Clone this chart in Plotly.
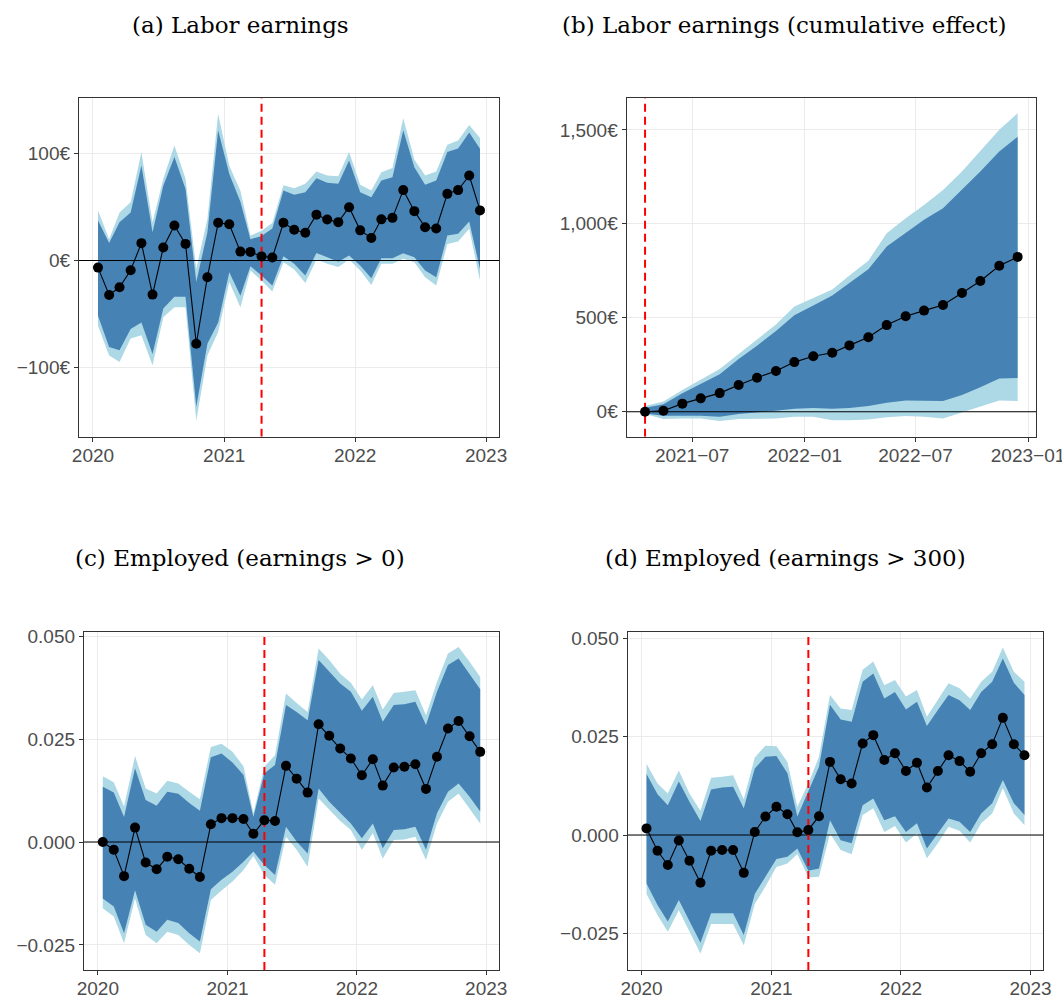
import plotly.graph_objects as go

# ---------------- data ----------------
months_all = [f"{y}-{m:02d}-15" for y in (2020, 2021, 2022) for m in range(1, 13)]
months_cum = months_all[15:]  # 2021-04 .. 2022-12
treat_date = "2021-04-15"

# (a) Labor earnings
est_a = [-6.6, -32.2, -25, -9.1, 16.3, -31.9, 12.2, 32.8, 15.6, -78, -15.6, 35.4, 34, 8.4, 8.1, 3.9, 2.8, 35.4,
         28.9, 26, 43, 38.5, 36, 50, 28.3, 21.2, 38.6, 40, 66, 46.3, 31.2, 30, 62.5, 66, 79.7, 47]
hi95_a = [47, 20, 45, 54.7, 101.6, 35.9, 76.6, 107.8, 76.6, -7.8, 39, 137.5, 88.75, 65.3, 23.4, 28, 35.3, 70.6,
          67.8, 71.9, 83.4, 79.7, 79, 101.6, 71, 65.6, 82.8, 86.6, 133.4, 94.7, 79.7, 83.4, 108.4, 112.5, 127, 114.7]
hi90_a = [37.5, 16.5, 36, 45, 89, 26.5, 70, 97, 67, -20, 26.5, 122, 81, 55, 20, 23, 30, 65.6,
          61.6, 64, 77, 72.8, 72, 93.75, 64, 59.4, 75, 78, 122, 87.5, 71, 75, 101.6, 105, 120, 104.7]
lo90_a = [-51.6, -81, -84, -64, -58, -87.5, -45, -34, -34, -137, -78, -58, -11, -33, -5.3, -14, -23.4, 4,
          -3, -14, 7.2, 3, -1, 4.7, -4.7, -16.5, 2.2, 2.2, 6.9, 3, -9.4, -15.6, 23.4, 25, 36.6, -7.8]
lo95_a = [-61, -89, -95, -73, -70, -98, -53, -43.75, -43.75, -150, -89, -67, -20, -43.75, -9.4, -18.75, -29, -1.5,
          -8.4, -21, 1, -3, -6, 1, -9.4, -22.8, -3, -3, 1.6, -1.5, -15.6, -23.4, 15.6, 17.8, 29.7, -18.75]

# (b) Labor earnings (cumulative effect)
est_b = [0, 5, 43, 71, 99, 142, 181, 217, 264, 295, 314, 353, 396, 461, 508, 538, 568, 632, 696, 777, 824]
hi95_b = [30, 54, 115, 170, 227, 307, 382, 464, 560, 605, 650, 725, 804, 950, 1030, 1100, 1180, 1278, 1385, 1500, 1589]
hi90_b = [21, 40, 98, 148, 200, 280, 351, 430, 514, 565, 618, 685, 758, 879, 953, 1021, 1083, 1180, 1278, 1385, 1464]
lo90_b = [-9, -21, -21, -21, -27, -12, -4, 5, 16, 20, 16, 20, 30, 48, 59, 59, 57, 89, 130, 177, 180]
lo95_b = [-12, -39, -36, -36, -50, -39, -36, -36, -27, -27, -45, -45, -41, -30, -23, -27, -36, 0, 27, 59, 57]

# (c) Employed (earnings > 0)
est_c = [0.0, -0.0019, -0.0083, 0.0035, -0.0050, -0.0066, -0.0036, -0.0042, -0.0065, -0.0085, 0.0043, 0.0058,
         0.0058, 0.0056, 0.0020, 0.0053, 0.0051, 0.0185, 0.0154, 0.0120, 0.0286, 0.0258, 0.0227, 0.0203,
         0.0162, 0.0201, 0.0137, 0.0181, 0.0183, 0.0189, 0.0129, 0.0207, 0.0276, 0.0294, 0.0257, 0.0219]
hi95_c = [0.0160, 0.0145, 0.0086, 0.0209, 0.0130, 0.0118, 0.0149, 0.0142, 0.0122, 0.0104, 0.0231, 0.0239,
          0.0219, 0.0184, 0.0070, 0.0183, 0.0211, 0.0361, 0.0338, 0.0316, 0.0470, 0.0442, 0.0409, 0.0387,
          0.0346, 0.0381, 0.0322, 0.0362, 0.0365, 0.0369, 0.0308, 0.0389, 0.0458, 0.0474, 0.0438, 0.0401]
hi90_c = [0.0134, 0.0120, 0.0061, 0.0179, 0.0102, 0.0088, 0.0122, 0.0117, 0.0095, 0.0076, 0.0206, 0.0215,
          0.0193, 0.0163, 0.0061, 0.0167, 0.0187, 0.0333, 0.0316, 0.0296, 0.0442, 0.0413, 0.0385, 0.0365,
          0.0319, 0.0353, 0.0292, 0.0333, 0.0335, 0.0341, 0.0284, 0.0365, 0.0430, 0.0446, 0.0409, 0.0371]
lo90_c = [-0.0137, -0.0157, -0.0222, -0.0117, -0.0201, -0.0218, -0.0189, -0.0197, -0.0222, -0.0242, -0.0115, -0.0092,
          -0.0072, -0.0048, -0.0023, -0.0056, -0.0080, 0.0037, 0.0001, -0.0028, 0.0130, 0.0098, 0.0070, 0.0045,
          0.0009, 0.0045, -0.0015, 0.0029, 0.0031, 0.0037, -0.0019, 0.0070, 0.0122, 0.0142, 0.0110, 0.0074]
lo95_c = [-0.0161, -0.0181, -0.0246, -0.0137, -0.0226, -0.0246, -0.0218, -0.0226, -0.0250, -0.0270, -0.0141, -0.0118,
          -0.0096, -0.0068, -0.0034, -0.0080, -0.0104, 0.0013, -0.0019, -0.0060, 0.0106, 0.0078, 0.0051, 0.0029,
          -0.0019, 0.0021, -0.0040, 0.0005, 0.0006, 0.0013, -0.0044, 0.0045, 0.0098, 0.0118, 0.0082, 0.0045]

# (d) Employed (earnings > 300)
est_d = [0.0017, -0.0040, -0.0076, -0.0014, -0.0065, -0.0121, -0.0040, -0.0038, -0.0038, -0.0096, 0.0008, 0.0047,
         0.0072, 0.0053, 0.0007, 0.0013, 0.0048, 0.0186, 0.0142, 0.0131, 0.0233, 0.0254, 0.0191, 0.0208,
         0.0163, 0.0184, 0.0121, 0.0163, 0.0203, 0.0188, 0.0161, 0.0208, 0.0231, 0.0298, 0.0231, 0.0203]
hi95_d = [0.0181, 0.0131, 0.0106, 0.0164, 0.0106, 0.0062, 0.0146, 0.0148, 0.0152, 0.0091, 0.0197, 0.0227,
          0.0226, 0.0186, 0.0072, 0.0131, 0.0199, 0.0356, 0.0322, 0.0318, 0.0420, 0.0441, 0.0381, 0.0394,
          0.0352, 0.0369, 0.0301, 0.0343, 0.0386, 0.0373, 0.0347, 0.0390, 0.0415, 0.0477, 0.0415, 0.0390]
hi90_d = [0.0155, 0.0104, 0.0076, 0.0136, 0.0085, 0.0036, 0.0116, 0.0121, 0.0123, 0.0068, 0.0169, 0.0199,
          0.0201, 0.0157, 0.0047, 0.0110, 0.0174, 0.0331, 0.0294, 0.0288, 0.0390, 0.0411, 0.0347, 0.0364,
          0.0319, 0.0339, 0.0277, 0.0318, 0.0356, 0.0343, 0.0318, 0.0364, 0.0390, 0.0449, 0.0387, 0.0356]
lo90_d = [-0.0123, -0.0178, -0.0220, -0.0165, -0.0218, -0.0274, -0.0199, -0.0199, -0.0199, -0.0254, -0.0150, -0.0106,
          -0.0061, -0.0055, -0.0034, -0.0091, -0.0085, 0.0038, -0.0013, -0.0021, 0.0076, 0.0093, 0.0038, 0.0048,
          0.0008, 0.0030, -0.0034, 0.0004, 0.0042, 0.0034, 0.0008, 0.0055, 0.0081, 0.0140, 0.0081, 0.0051]
lo95_d = [-0.0150, -0.0203, -0.0246, -0.0191, -0.0246, -0.0301, -0.0226, -0.0226, -0.0226, -0.0280, -0.0175, -0.0131,
          -0.0081, -0.0072, -0.0048, -0.0108, -0.0106, 0.0004, -0.0038, -0.0049, 0.0051, 0.0068, 0.0008, 0.0023,
          -0.0019, 0.0004, -0.0059, -0.0021, 0.0021, 0.0011, -0.0019, 0.0030, 0.0055, 0.0119, 0.0055, 0.0025]

titles = ["(a) Labor earnings", "(b) Labor earnings (cumulative effect)",
          "(c) Employed (earnings > 0)", "(d) Employed (earnings > 300)"]

year_ticks = ["2020-01-01", "2021-01-01", "2022-01-01", "2023-01-01"]
year_text = ["2020", "2021", "2022", "2023"]
half_ticks = ["2021-07-01", "2022-01-01", "2022-07-01", "2023-01-01"]
half_text = ["2021\u221207", "2022\u221201", "2022\u221207", "2023\u221201"]

eur_ticks_a = [-100, 0, 100]
eur_text_a = ["\u2212100\u20ac", "0\u20ac", "100\u20ac"]
eur_ticks_b = [0, 500, 1000, 1500]
eur_text_b = ["0\u20ac", "500\u20ac", "1,000\u20ac", "1,500\u20ac"]
emp_ticks = [-0.025, 0.0, 0.025, 0.05]
emp_text = ["\u22120.025", "0.000", "0.025", "0.050"]

# ---------------- styling ----------------
W, H = 1062, 998
LIGHT = "#ADD8E6"
DARK = "#4682B4"
SANS = "Liberation Sans, Arial, sans-serif"
SERIF = "DejaVu Serif, Liberation Serif, serif"

panels = [
    dict(x=months_all, est=est_a, hi95=hi95_a, hi90=hi90_a, lo90=lo90_a, lo95=lo95_a,
         px=(79, 499), py=(98.3, 436.7), xr=["2019-11-23", "2023-02-06"], yr=[-165, 152],
         xt=year_ticks, xtt=year_text, yt=eur_ticks_a, ytt=eur_text_a, title_xy=(240.5, 25)),
    dict(x=months_cum, est=est_b, hi95=hi95_b, hi90=hi90_b, lo90=lo90_b, lo95=lo95_b,
         px=(626.7, 1036), py=(98.3, 436.7), xr=["2021-03-16", "2023-01-14"], yr=[-133, 1668],
         xt=half_ticks, xtt=half_text, yt=eur_ticks_b, ytt=eur_text_b, title_xy=(784, 25)),
    dict(x=months_all, est=est_c, hi95=hi95_c, hi90=hi90_c, lo90=lo90_c, lo95=lo95_c,
         px=(84, 499), py=(631.7, 970), xr=["2019-11-23", "2023-02-06"], yr=[-0.0311, 0.0511],
         xt=year_ticks, xtt=year_text, yt=emp_ticks, ytt=emp_text, title_xy=(240, 558)),
    dict(x=months_all, est=est_d, hi95=hi95_d, hi90=hi90_d, lo90=lo90_d, lo95=lo95_d,
         px=(627.7, 1043.3), py=(631.7, 970), xr=["2019-11-23", "2023-02-06"], yr=[-0.0343, 0.0517],
         xt=year_ticks, xtt=year_text, yt=emp_ticks, ytt=emp_text, title_xy=(785, 558)),
]

fig = go.Figure()
layout = dict(width=W, height=H, margin=dict(l=0, r=0, t=0, b=0, autoexpand=False),
              paper_bgcolor="white", plot_bgcolor="white", showlegend=False,
              font=dict(family=SANS, size=19, color="#4D4D4D"))
annotations = []

for i, p in enumerate(panels):
    n = i + 1
    xa = "x" if n == 1 else f"x{n}"
    ya = "y" if n == 1 else f"y{n}"
    xs = list(p["x"])
    rev = xs[::-1]
    # outer (95%) ribbon
    fig.add_trace(go.Scatter(x=xs + rev, y=list(p["hi95"]) + list(p["lo95"])[::-1], fill="toself",
                             fillcolor=LIGHT, line=dict(width=0), mode="lines", hoverinfo="skip",
                             xaxis=xa, yaxis=ya))
    # inner (90%) ribbon
    fig.add_trace(go.Scatter(x=xs + rev, y=list(p["hi90"]) + list(p["lo90"])[::-1], fill="toself",
                             fillcolor=DARK, line=dict(width=0), mode="lines", hoverinfo="skip",
                             xaxis=xa, yaxis=ya))
    # zero line
    fig.add_trace(go.Scatter(x=p["xr"], y=[0, 0], mode="lines", line=dict(color="black", width=1.1),
                             hoverinfo="skip", xaxis=xa, yaxis=ya))
    # treatment line
    fig.add_trace(go.Scatter(x=[treat_date, treat_date], y=p["yr"], mode="lines",
                             line=dict(color="#FF0000", width=2, dash="8px,5px"),
                             hoverinfo="skip", xaxis=xa, yaxis=ya))
    # estimates
    fig.add_trace(go.Scatter(x=xs, y=p["est"], mode="lines+markers",
                             line=dict(color="black", width=1.1),
                             marker=dict(color="black", size=10),
                             xaxis=xa, yaxis=ya))

    x0, x1 = p["px"]
    y0, y1 = p["py"]
    axis_common = dict(showline=True, mirror=True, linecolor="#333333", linewidth=1.3,
                       showgrid=True, gridcolor="#EBEBEB", gridwidth=1.3, zeroline=False,
                       automargin=False, ticklabeloverflow="allow",
                       ticks="outside", ticklen=4, tickwidth=1.1, tickcolor="#333333",
                       tickfont=dict(family=SANS, size=19, color="#4D4D4D"))
    layout["xaxis" if n == 1 else f"xaxis{n}"] = dict(
        axis_common, type="date", domain=[x0 / W, x1 / W], range=p["xr"],
        tickmode="array", tickvals=p["xt"], ticktext=p["xtt"], anchor=ya,
        ticklabelstandoff=-3)
    layout["yaxis" if n == 1 else f"yaxis{n}"] = dict(
        axis_common, domain=[1 - y1 / H, 1 - y0 / H], range=p["yr"],
        tickmode="array", tickvals=p["yt"], ticktext=p["ytt"], anchor=xa)
    tx, ty = p["title_xy"]
    annotations.append(dict(text=titles[i], x=tx / W, y=1 - ty / H, xref="paper", yref="paper",
                            xanchor="center", yanchor="middle", showarrow=False,
                            font=dict(family=SERIF, size=23, color="black")))

layout["annotations"] = annotations
fig.update_layout(**layout)
fig.write_html("out.html", config={"displayModeBar": False},
               post_script="document.body.style.margin='0';document.body.style.overflow='hidden';")
